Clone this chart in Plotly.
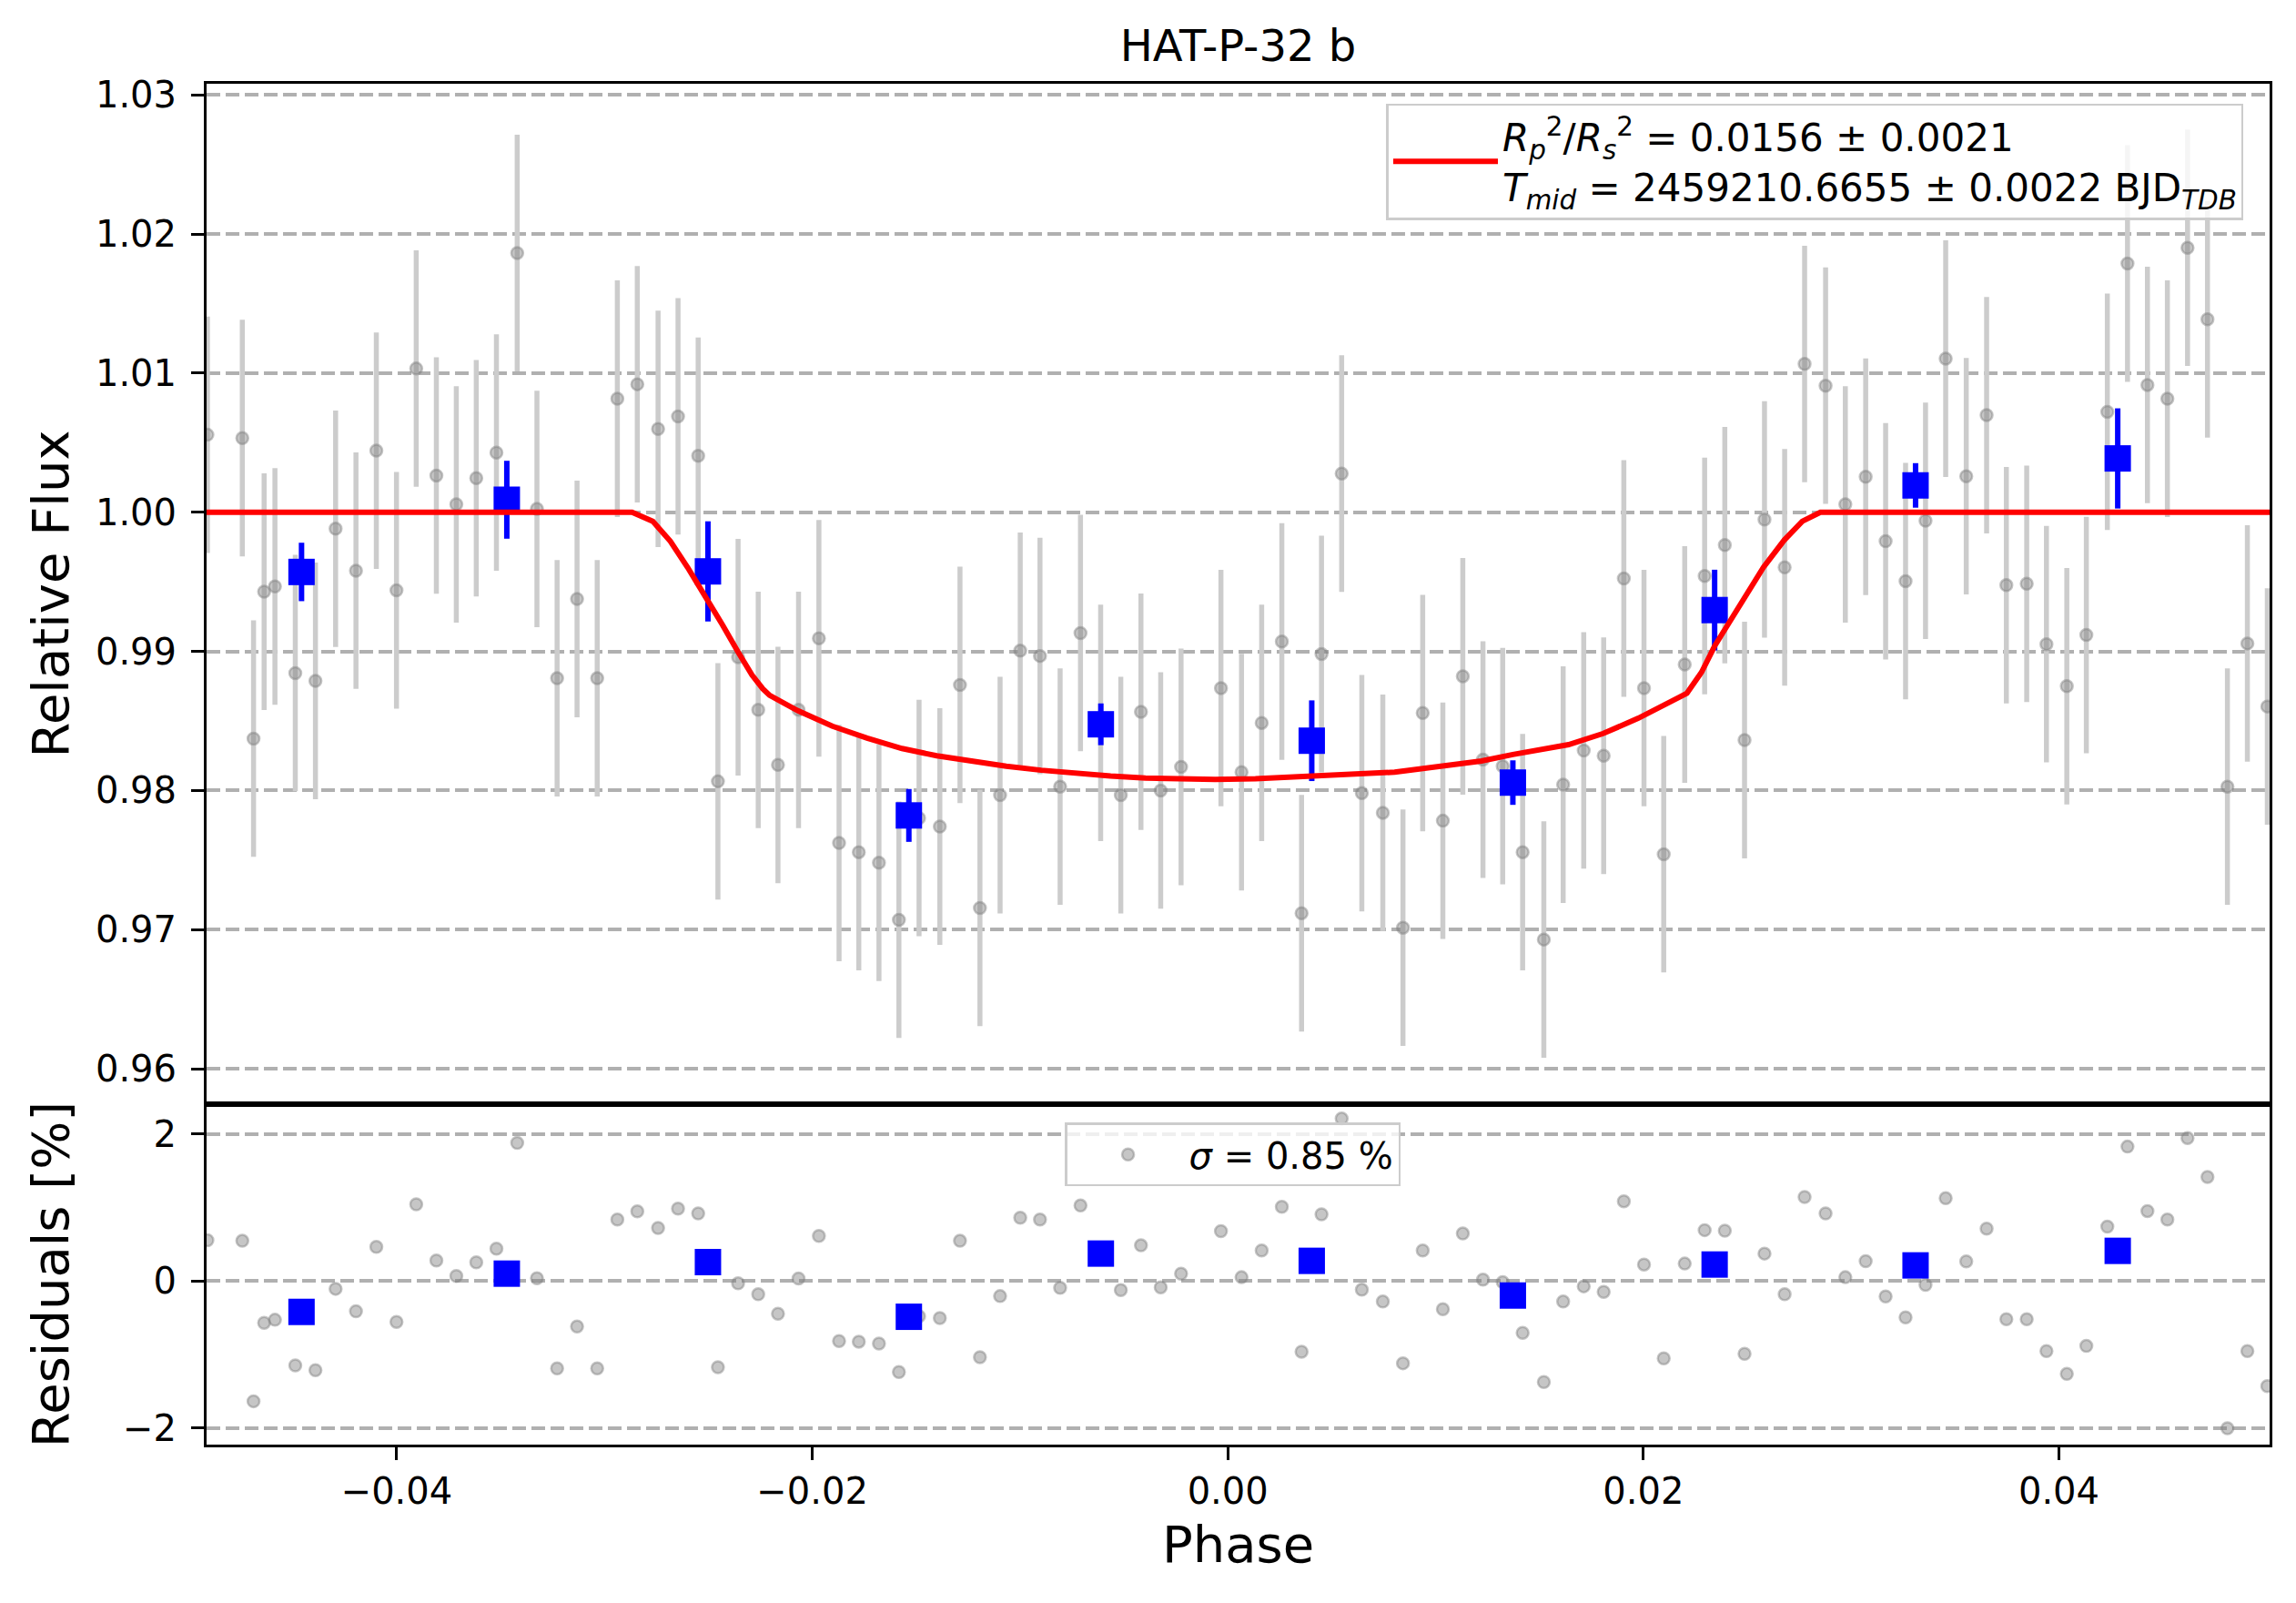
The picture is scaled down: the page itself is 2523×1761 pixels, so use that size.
import plotly.graph_objects as go
from plotly.subplots import make_subplots

# phase-folded light curve of HAT-P-32 b
phase = [
    -0.04911, -0.04743, -0.04689, -0.04638, -0.04586, -0.04488, -0.04391, -0.04294, -0.04196, -0.04098,
    -0.04001, -0.03906, -0.03809, -0.03713, -0.03617, -0.03520, -0.03420, -0.03325, -0.03228, -0.03132,
    -0.03035, -0.02938, -0.02842, -0.02742, -0.02646, -0.02549, -0.02454, -0.02357,
    -0.02260, -0.02165, -0.02066, -0.01968, -0.01871, -0.01776, -0.01679, -0.01583, -0.01486, -0.01386,
    -0.01289, -0.01193, -0.01096, -0.00999, -0.00904, -0.00807, -0.00709, -0.00612, -0.00515, -0.00418,
    -0.00323, -0.00225, -0.00033, 0.00066, 0.00163,
    0.00260, 0.00355, 0.00451, 0.00548, 0.00645, 0.00746, 0.00843, 0.00938, 0.01035, 0.01131,
    0.01228, 0.01323, 0.01419, 0.01521, 0.01614, 0.01713, 0.01809, 0.01906, 0.02003, 0.02098,
    0.02199, 0.02295, 0.02392, 0.02487, 0.02583, 0.02680,
    0.02776, 0.02877, 0.02972, 0.03070, 0.03166, 0.03262, 0.03358, 0.03455, 0.03554, 0.03652,
    0.03747, 0.03845, 0.03940, 0.04038, 0.04132, 0.04233, 0.04330, 0.04426, 0.04522, 0.04619,
    0.04715, 0.04811, 0.04907, 0.05003,
]
flux = [
    1.00557, 1.00533, 0.98373, 0.99429, 0.99467, 0.98844, 0.98788, 0.99882, 0.99580, 1.00443,
    0.99439, 1.01033, 1.00264, 1.00057, 1.00245, 1.00429, 1.01863, 1.00024, 0.98807, 0.99377,
    0.98807, 1.00816, 1.00920, 1.00599, 1.00689, 1.00406, 0.98066, 0.98958,
    0.98580, 0.98184, 0.98580, 0.99094, 0.97623, 0.97557, 0.97481, 0.97071, 0.97802, 0.97741,
    0.98759, 0.97156, 0.97967, 0.99005, 0.98967, 0.98028, 0.99132, 0.98486, 0.97967, 0.98566,
    0.98000, 0.98170, 0.98736, 0.98132, 0.98486,
    0.99071, 0.97118, 0.98981, 1.00278, 0.97981, 0.97840, 0.97014, 0.98557, 0.97783, 0.98821,
    0.98222, 0.98175, 0.97557, 0.96929, 0.98042, 0.98288, 0.98250, 0.99524, 0.98736, 0.97542,
    0.98906, 0.99542, 0.99764, 0.98363, 0.99948, 0.99604,
    1.01066, 1.00910, 1.00057, 1.00255, 0.99792, 0.99505, 0.99939, 1.01104, 1.00259, 1.00698,
    0.99476, 0.99486, 0.99052, 0.98750, 0.99118, 1.00722, 1.01788, 1.00915, 1.00816, 1.01901,
    1.01387, 0.98028, 0.99057, 0.98604,
]
flux_err = 0.0085

# residuals in percent
residual = [
    0.554, 0.546, -1.638, -0.571, -0.529, -1.150, -1.216, -0.108, -0.414, 0.463,
    -0.558, 1.042, 0.277, 0.066, 0.252, 0.438, 1.878, 0.037, -1.191, -0.620,
    -1.191, 0.836, 0.947, 0.720, 0.984, 0.918, -1.175, -0.033,
    -0.182, -0.447, 0.033, 0.612, -0.819, -0.827, -0.852, -1.241, -0.480, -0.505,
    0.546, -1.038, -0.207, 0.860, 0.836, -0.095, 1.026, 0.350, -0.124, 0.484,
    -0.087, 0.099, 0.678, 0.050, 0.414,
    1.009, -0.964, 0.906, 2.209, -0.120, -0.281, -1.121, 0.414, -0.385, 0.645,
    0.017, -0.017, -0.707, -1.377, -0.281, -0.074, -0.149, 1.084, 0.223, -1.055,
    0.236, 0.691, 0.683, -0.993, 0.372, -0.182,
    1.142, 0.918, 0.050, 0.269, -0.211, -0.496, -0.054, 1.125, 0.265, 0.711,
    -0.521, -0.521, -0.956, -1.266, -0.885, 0.740, 1.828, 0.951, 0.836, 1.944,
    1.415, -2.006, -0.956, -1.431,
]

# binned points
bin_phase = [-0.04458, -0.03470, -0.02502, -0.01535, -0.00611, 0.00404, 0.01372, 0.02343, 0.03310, 0.04283]
bin_flux = [0.99571, 1.00090, 0.99575, 0.97821, 0.98476, 0.98358, 0.98057, 0.99297, 1.00193, 1.00387]
bin_err = [0.0021, 0.0028, 0.0036, 0.0019, 0.0015, 0.0029, 0.0016, 0.0029, 0.0016, 0.0036]
bin_residual = [-0.422, 0.099, 0.256, -0.488, 0.372, 0.273, -0.199, 0.223, 0.211, 0.409]

# transit model curve
model_phase = [
    -0.04915, -0.02867, -0.02767, -0.02683, -0.02600, -0.02502, -0.02432, -0.02359, -0.02290, -0.02238,
    -0.02205, -0.02071, -0.01903, -0.01736, -0.01568, -0.01401, -0.01233, -0.01066, -0.00898, -0.00731,
    -0.00564, -0.00396, -0.00229, -0.00061, 0.00133, 0.00404, 0.00803, 0.01221, 0.01372, 0.01640,
    0.01807, 0.01975, 0.02209, 0.02280, 0.02343, 0.02410, 0.02477, 0.02578, 0.02678, 0.02765,
    0.02852, 0.05014,
]
model_flux = [
    1.0, 1.0, 0.99934, 0.99792, 0.99604, 0.99368, 0.99190, 0.99000, 0.98830, 0.98731,
    0.98684, 0.98575, 0.98462, 0.98377, 0.98302, 0.98250, 0.98208, 0.98175, 0.98146, 0.98123,
    0.98104, 0.98090, 0.98085, 0.98080, 0.98085, 0.98104, 0.98132, 0.98212, 0.98259, 0.98330,
    0.98410, 0.98519, 0.98698, 0.98850, 0.99038, 0.99200, 0.99368, 0.99604, 0.99800, 0.99935,
    1.0, 1.0,
]

model_label = ("<i>R</i><sub><i>p</i></sub><sup>2</sup>/<i>R</i><sub><i>s</i></sub><sup>2</sup>"
               " = 0.0156 ± 0.0021<br>"
               "<i>T</i><sub><i>mid</i></sub> = 2459210.6655 ± 0.0022 BJD<sub><i>TDB</i></sub>")
sigma_label = "<i>σ</i> = 0.85 %"

GRAY = "rgba(128,128,128,0.45)"
BAR = "rgb(204,204,204)"

fig = make_subplots(rows=2, cols=1, shared_xaxes=True, vertical_spacing=0,
                    row_heights=[0.7498, 0.2502])

fig.add_trace(go.Scatter(
    x=phase, y=flux, mode="markers",
    marker=dict(size=13, color=GRAY, line=dict(color=GRAY, width=2.5)),
    error_y=dict(type="constant", value=flux_err, color=BAR, thickness=5.5, width=0),
    showlegend=False), row=1, col=1)

fig.add_trace(go.Scatter(
    x=bin_phase, y=bin_flux, mode="markers",
    marker=dict(symbol="square", size=29, color="blue"),
    error_y=dict(type="data", array=bin_err, color="blue", thickness=6, width=0),
    showlegend=False), row=1, col=1)

fig.add_trace(go.Scatter(
    x=model_phase, y=model_flux, mode="lines",
    line=dict(color="red", width=6),
    name=model_label, legend="legend"), row=1, col=1)

fig.add_trace(go.Scatter(
    x=phase, y=residual, mode="markers",
    marker=dict(size=13, color=GRAY, line=dict(color=GRAY, width=2.5)),
    name=sigma_label, legend="legend2"), row=2, col=1)

fig.add_trace(go.Scatter(
    x=bin_phase, y=bin_residual, mode="markers",
    marker=dict(symbol="square", size=29, color="blue"),
    showlegend=False), row=2, col=1)

axis_common = dict(showline=True, mirror=True, linecolor="black", linewidth=3,
                   zeroline=False, tickcolor="black", tickwidth=3, ticklen=14,
                   tickfont=dict(size=40, color="black"))

fig.update_xaxes(range=[-0.04915, 0.05014], showgrid=False, **axis_common)
fig.update_xaxes(ticks="", showticklabels=False, row=1, col=1)
fig.update_xaxes(ticks="outside", tickvals=[-0.04, -0.02, 0.0, 0.02, 0.04], tickformat=".2f",
                 ticklabelstandoff=0, row=2, col=1)

grid = dict(showgrid=True, gridcolor="#b0b0b0", gridwidth=3.5, griddash="15px,6px",
            ticks="outside", ticklabelstandoff=8)
fig.update_yaxes(range=[0.95746, 1.0308], tickvals=[0.96, 0.97, 0.98, 0.99, 1.00, 1.01, 1.02, 1.03],
                 tickformat=".2f", title=dict(text="Relative Flux", font=dict(size=56), standoff=12),
                 **grid, **axis_common, row=1, col=1)
fig.update_yaxes(range=[-2.228, 2.406], tickvals=[-2, 0, 2],
                 title=dict(text="Residuals [%]", font=dict(size=56), standoff=42),
                 **grid, **axis_common, row=2, col=1)

# x label placed by hand so it sits close to the tick labels
fig.add_annotation(text="Phase", xref="paper", yref="paper", x=0.5, y=-0.0731,
                   xanchor="center", yanchor="middle", showarrow=False,
                   font=dict(size=56, color="black"))

# page body adds 8px around the figure, so the figure is 16px smaller
fig.update_layout(
    width=2507, height=1745,
    margin=dict(l=219, r=21, t=84, b=166),
    paper_bgcolor="white", plot_bgcolor="white",
    font=dict(family="DejaVu Sans", color="black"),
    title=dict(text="HAT-P-32 b", x=0.5, xref="paper", xanchor="center",
               y=0.9759, yanchor="middle", font=dict(size=48)),
    legend=dict(x=0.5719, y=0.9855, xanchor="left", yanchor="top",
                bgcolor="rgba(255,255,255,0.8)", bordercolor="#cccccc", borderwidth=2.5,
                font=dict(size=42), itemwidth=115),
    legend2=dict(x=0.416, y=0.2366, xanchor="left", yanchor="top",
                 bgcolor="rgba(255,255,255,0.8)", bordercolor="#cccccc", borderwidth=2.5,
                 font=dict(size=40), itemwidth=124),
)

fig.write_html("out.html")
